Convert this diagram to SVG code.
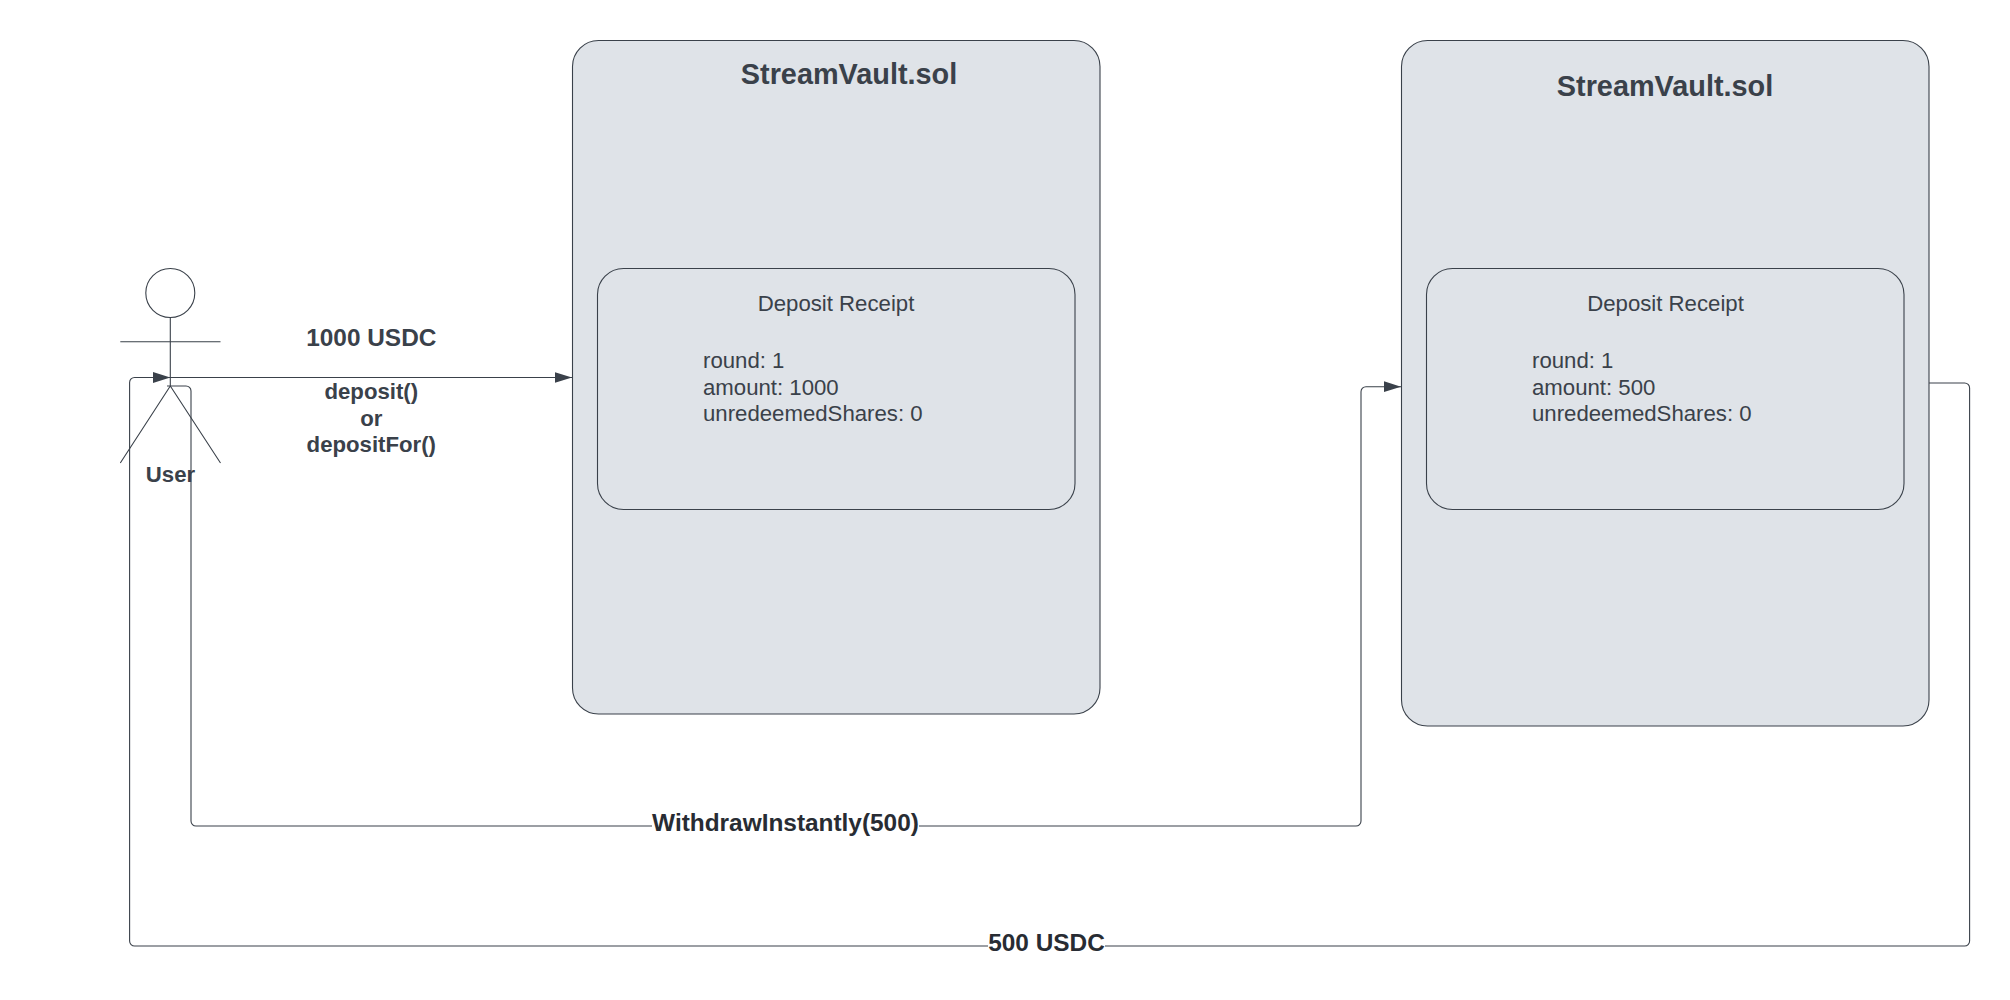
<svg xmlns="http://www.w3.org/2000/svg" width="2010" height="1000" viewBox="0 0 2010 1000">
<style>
text{font-family:"Liberation Sans",Arial,sans-serif;fill:#3a414a;font-size:22.2px}
.b{font-weight:bold}
.m{text-anchor:middle}
.t{font-size:28.85px;font-weight:bold;text-anchor:middle}
.l{font-size:24.4px;font-weight:bold;text-anchor:middle}
.d{fill:#282c33}
.box{fill:#dfe3e8;stroke:#3a414a;stroke-width:1.1}
.s{fill:none;stroke:#3a414a;stroke-width:1.1}
.c{fill:none;stroke:#3a414a;stroke-width:1.1;marker-end:url(#a)}
</style>
<defs>
<marker id="a" markerUnits="userSpaceOnUse" markerWidth="18" markerHeight="12" refX="17.5" refY="5.5" orient="auto"><path d="M0 0L17.5 5.5L0 11Z" fill="#3a414a"/></marker>
</defs>
<rect width="2010" height="1000" fill="#fff"/>
<g id="vault1">
<rect class="box" x="572.5" y="40.5" width="527.5" height="673.5" rx="26"/>
<text class="t" x="849" y="84.3">StreamVault.sol</text>
</g>
<g id="receipt1">
<rect class="box" x="597.5" y="268.5" width="477.5" height="241" rx="26"/>
<text class="m" x="836" y="311.3">Deposit Receipt</text>
<text x="703" y="368">round: 1</text>
<text x="703" y="394.7">amount: 1000</text>
<text x="703" y="421.4">unredeemedShares: 0</text>
</g>
<g id="vault2">
<rect class="box" x="1401.5" y="40.5" width="527.5" height="685.5" rx="26"/>
<text class="t" x="1665" y="95.8">StreamVault.sol</text>
</g>
<g id="receipt2">
<rect class="box" x="1426.5" y="268.5" width="477.5" height="241" rx="26"/>
<text class="m" x="1665.5" y="311.3">Deposit Receipt</text>
<text x="1532" y="368">round: 1</text>
<text x="1532" y="394.7">amount: 500</text>
<text x="1532" y="421.4">unredeemedShares: 0</text>
</g>
<g id="user">
<circle class="s" cx="170.3" cy="293" r="24.5"/>
<path class="s" d="M170.3 317.5V386M120.3 341.7H220.5M170.3 386L120.3 463M170.3 386L220.5 463"/>
<text class="b m" x="170.5" y="481.7">User</text>
</g>
<g id="connectors">
<path class="c" d="M170.3 377.5H572"/>
<path class="c" d="M167 386H186a5 5 0 0 1 5 5V821a5 5 0 0 0 5 5H1356a5 5 0 0 0 5-5V391.7a5 5 0 0 1 5-5H1401"/>
<path class="c" d="M1929 383H1964.6a5 5 0 0 1 5 5V941a5 5 0 0 1-5 5H134.6a5 5 0 0 1-5-5V382.5a5 5 0 0 1 5-5H170.3"/>
</g>
<g id="connector-labels">
<text class="l" x="371.3" y="346">1000 USDC</text>
<text class="b m" x="371.3" y="399">deposit()</text>
<text class="b m" x="371.3" y="425.7">or</text>
<text class="b m" x="371.3" y="452.4">depositFor()</text>
<rect x="652" y="815" width="267" height="22" fill="#fff"/>
<text class="l d" x="785.5" y="831">WithdrawInstantly(500)</text>
<rect x="988" y="934" width="117" height="22" fill="#fff"/>
<text class="l d" x="1046.5" y="951">500 USDC</text>
</g>
</svg>
